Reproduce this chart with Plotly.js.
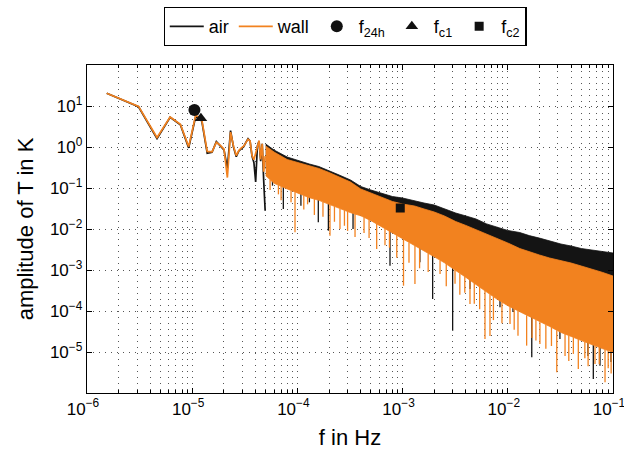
<!DOCTYPE html>
<html><head><meta charset="utf-8">
<script src="https://cdn.plot.ly/plotly-3.0.1.min.js"></script>
<style>html,body{margin:0;padding:0;background:#fff}#chart{width:624px;height:461px}</style>
</head><body><div id="chart"></div>
<script>
// discrete low-frequency bins (Hz)
const lowFreq = [1.54e-6,3.09e-6,4.63e-6,6.17e-6,7.72e-6,9.26e-6,1.080e-5,1.234e-5,1.389e-5,1.543e-5,
  1.697e-5,1.852e-5,2.006e-5,2.160e-5,2.315e-5,2.469e-5,2.623e-5,2.777e-5,2.932e-5,3.086e-5,
  3.240e-5,3.395e-5,3.549e-5,3.703e-5,3.858e-5,4.012e-5,4.166e-5,4.320e-5,4.475e-5,4.629e-5,4.783e-5,4.938e-5];
const airLow = [20.4,9.6,1.6,5.3,3.5,0.95,5.6,4.3,0.70,0.74,
  1.35,1.08,0.85,0.30,2.5,1.0,0.58,0.80,0.92,1.02,
  1.30,1.60,1.40,0.60,0.42,0.14,1.05,1.40,0.45,1.2,0.15,0.028];
const wallLow = [20.4,9.8,1.7,5.4,3.6,1.02,6.0,4.6,0.78,0.76,
  1.30,1.10,0.89,0.18,2.3,1.05,0.62,0.82,0.95,1.05,
  1.28,1.55,1.40,0.62,0.49,0.74,1.08,1.43,0.5,1.2,0.25,0.6];

// dense high-frequency part: envelope of the spectra
const bandFreq = [5e-5,6e-5,8e-5,1e-4,1.3e-4,1.6e-4,2e-4,2.5e-4,3.2e-4,4e-4,5e-4,6.3e-4,8e-4,1e-3,1.3e-3,1.6e-3,2e-3,2.5e-3,3.2e-3,4e-3,5e-3,6.3e-3,8e-3,1e-2,1.3e-2,1.6e-2,2e-2,2.5e-2,3.2e-2,4e-2,5e-2,6.3e-2,8e-2,1e-1];
const airUpper = [1.18,0.845,0.57,0.469,0.385,0.334,0.267,0.207,0.157,0.109,0.0893,0.0734,0.062,0.057,0.0482,0.043,0.0385,0.0308,0.0245,0.0208,0.0175,0.0133,0.0109,0.0092,0.0082,0.0069,0.0060,0.0051,0.0043,0.00385,0.00334,0.00307,0.00282,0.0026];
const airLower = [0.3,0.19,0.13,0.1,0.083,0.072,0.059,0.048,0.037,0.033,0.025,0.018,0.013,0.0091,0.0062,0.0046,0.0033,0.0024,0.0015,0.001,0.00069,0.00044,0.0003,0.00021,0.00015,0.000114,8.6e-5,6.5e-5,4.6e-5,3.7e-5,3e-5,2.4e-5,1.9e-5,1.5e-5];
const wallUpper = [1.06,0.755,0.495,0.42,0.344,0.30,0.239,0.185,0.14,0.0946,0.0755,0.060,0.0469,0.0407,0.0364,0.0308,0.026,0.0208,0.0152,0.0122,0.0097,0.00755,0.00587,0.00456,0.00334,0.00275,0.00232,0.00196,0.0017,0.00148,0.00125,0.00106,0.00087,0.000714];
const wallLower = [0.2,0.13,0.095,0.075,0.058,0.05,0.04,0.032,0.025,0.021,0.016,0.0115,0.0082,0.0058,0.0039,0.0029,0.0021,0.0015,0.00097,0.00066,0.00045,0.00029,0.00019,0.000135,9.6e-5,7.3e-5,5.5e-5,4.2e-5,3e-5,2.4e-5,1.9e-5,1.5e-5,1.2e-5,9.8e-6];

// downward excursions below the dense band
const airSpikeFreq = [5.8e-5,7.35e-5,1.08e-4,1.3e-4,1.58e-4,1.97e-4,3.38e-4,7.59e-4,1.46e-3,1.93e-3,2.99e-3,4.37e-3,8.43e-3,1.12e-2,1.69e-2,3.13e-2,5.78e-2,6.5e-2,7.52e-2,9.57e-2];
const airSpikeMin  = [0.114,0.0308,0.037,0.0448,0.0146,0.0091,0.01,0.00127,0.00154,0.000196,3.31e-5,0.000344,0.000123,9.46e-5,7.4e-6,2.07e-5,8e-6,2.19e-6,4.6e-6,5.7e-6];
const wallSpikeFreq = [5.5e-5,6.6e-5,7e-5,8.7e-5,9.49e-5,1.15e-4,1.25e-4,1.45e-4,1.75e-4,2.04e-4,2.25e-4,2.54e-4,2.8e-4,3e-4,3.53e-4,4.3e-4,4.8e-4,5.67e-4,6.8e-4,7.5e-4,8.8e-4,1.02e-3,1.15e-3,1.31e-3,1.45e-3,1.75e-3,2.27e-3,2.6e-3,3.15e-3,3.5e-3,3.9e-3,4.37e-3,4.8e-3,5.4e-3,6.07e-3,6.77e-3,7.3e-3,8.8e-3,1.05e-2,1.15e-2,1.25e-2,1.51e-2,1.7e-2,1.85e-2,2.02e-2,2.3e-2,2.6e-2,2.92e-2,3.5e-2,3.8e-2,4.2e-2,4.68e-2,5.4e-2,5.8e-2,6.74e-2,7.4e-2,8.4e-2,9e-2,9.6e-2];
const wallSpikeMin  = [0.09,0.07,0.05,0.045,0.0083,0.03,0.04,0.022,0.02,0.00687,0.015,0.01,0.012,0.009,0.0064,0.008,0.006,0.00325,0.004,0.0035,0.002,0.000414,0.0015,0.000456,0.0011,0.0009,0.0008,0.0004,0.00046,0.00025,0.00028,0.000148,0.00015,0.00011,2.07e-5,2.45e-5,6e-5,5e-5,4.8e-5,3.5e-5,2.5e-5,1.43e-5,2.2e-5,1.9e-5,1.57e-5,1.2e-5,1.4e-5,3.2e-6,8e-6,6e-6,9e-6,3.85e-6,7e-6,4.5e-6,5.1e-6,5e-6,1.82e-6,4e-6,3e-6];

// characteristic frequencies
const markerNames = ['f<sub>24h</sub>','f<sub>c1</sub>','f<sub>c2</sub>'];
const markerFreq = [1.05e-5,1.21e-5,9.5e-4];
const markerAmp = [8.0,5.0,0.0325];
const markerSymbol = ['circle','triangle-up','square'];
const markerSize = [12,11,9];

const xTickVals = [1e-6,1e-5,1e-4,1e-3,1e-2,1e-1];
const xTickText = ['10<sup>\u22126</sup>','10<sup>\u22125</sup>','10<sup>\u22124</sup>','10<sup>\u22123</sup>','10<sup>\u22122</sup>','10<sup>\u22121</sup>'];
const yTickVals = [1e-5,1e-4,1e-3,1e-2,1e-1,1e0,1e1];
const yTickText = ['10<sup>\u22125</sup>','10<sup>\u22124</sup>','10<sup>\u22123</sup>','10<sup>\u22122</sup>','10<sup>\u22121</sup>','10<sup>0</sup>','10<sup>1</sup>'];

const BLACK = '#141414', ORANGE = '#f2821f';

function logInterp(xs, ys, x) {
  for (let i = 0; i < xs.length - 1; i++) {
    if (x >= xs[i] && x <= xs[i+1]) {
      const t = (Math.log10(x) - Math.log10(xs[i])) / (Math.log10(xs[i+1]) - Math.log10(xs[i]));
      return Math.pow(10, Math.log10(ys[i]) + t * (Math.log10(ys[i+1]) - Math.log10(ys[i])));
    }
  }
  return ys[ys.length-1];
}
function band(upper, lower, color) {
  return {x: bandFreq.concat(bandFreq.slice().reverse()), y: upper.concat(lower.slice().reverse()),
    type:'scatter', mode:'lines', fill:'toself', fillcolor: color, line:{color: color, width:0.8},
    showlegend:false, hoverinfo:'skip'};
}
function spikes(freqs, mins, lower, color) {
  const x = [], y = [];
  freqs.forEach((f, i) => { x.push(f, f, null); y.push(logInterp(bandFreq, lower, f), mins[i], null); });
  return {x, y, type:'scatter', mode:'lines', line:{color: color, width:1.3}, showlegend:false, hoverinfo:'skip'};
}

const traces = [
  band(airUpper, airLower, BLACK),
  spikes(airSpikeFreq, airSpikeMin, airLower, BLACK),
  {x: lowFreq, y: airLow, type:'scatter', mode:'lines', name:'air', line:{color:BLACK, width:1.7}},
  band(wallUpper, wallLower, ORANGE),
  spikes(wallSpikeFreq, wallSpikeMin, wallLower, ORANGE),
  {x: lowFreq, y: wallLow, type:'scatter', mode:'lines', name:'wall', line:{color:ORANGE, width:1.7}},
];
markerNames.forEach((n, i) => traces.push({x:[markerFreq[i]], y:[markerAmp[i]], type:'scatter', mode:'markers', name:n,
  marker:{symbol: markerSymbol[i], size: markerSize[i], color:'#111'}}));

const FONT = 'Liberation Sans, Arial, Helvetica, sans-serif';
const gridDash = '1px,5px';
const layout = {
  width:624, height:461,
  margin:{l:87, r:11, t:65, b:68, autoexpand:false},
  paper_bgcolor:'#fff', plot_bgcolor:'#fff',
  font:{family:FONT, size:18, color:'#000'},
  showlegend:true,
  legend:{orientation:'h', xref:'container', x:0.553, xanchor:'center', yref:'container', y:0.985, yanchor:'top', itemwidth:34,
    bordercolor:'#000', borderwidth:1.2, bgcolor:'#fff', font:{family:FONT, size:18, color:'#000'}},
  xaxis:{type:'log', range:[-6,-1], tickmode:'array', tickvals:xTickVals, ticktext:xTickText,
    ticks:'inside', ticklen:5, tickcolor:'#000', showline:true, linecolor:'#000', linewidth:1.2, mirror:'ticks',
    showgrid:true, gridcolor:'#555', griddash:gridDash, gridwidth:1, zeroline:false,
    tickfont:{family:FONT, size:17}, ticklabeloverflow:'allow', ticklabelshift:-4,
    minor:{dtick:'D1', ticks:'inside', ticklen:3, tickcolor:'#000', showgrid:true, gridcolor:'#555', griddash:gridDash, gridwidth:1},
    title:{text:'f in Hz', font:{family:FONT, size:22}, standoff:12}},
  yaxis:{type:'log', range:[-6,2], tickmode:'array', tickvals:yTickVals, ticktext:yTickText,
    ticks:'inside', ticklen:5, tickcolor:'#000', showline:true, linecolor:'#000', linewidth:1.2, mirror:'ticks',
    showgrid:true, gridcolor:'#555', griddash:gridDash, gridwidth:1, zeroline:false,
    tickfont:{family:FONT, size:17}, ticklabeloverflow:'allow',
    title:{text:'amplitude of T in K', font:{family:FONT, size:22}, standoff:10}}
};
Plotly.newPlot('chart', traces, layout, {staticPlot:true, displayModeBar:false});
</script>
</body></html>
